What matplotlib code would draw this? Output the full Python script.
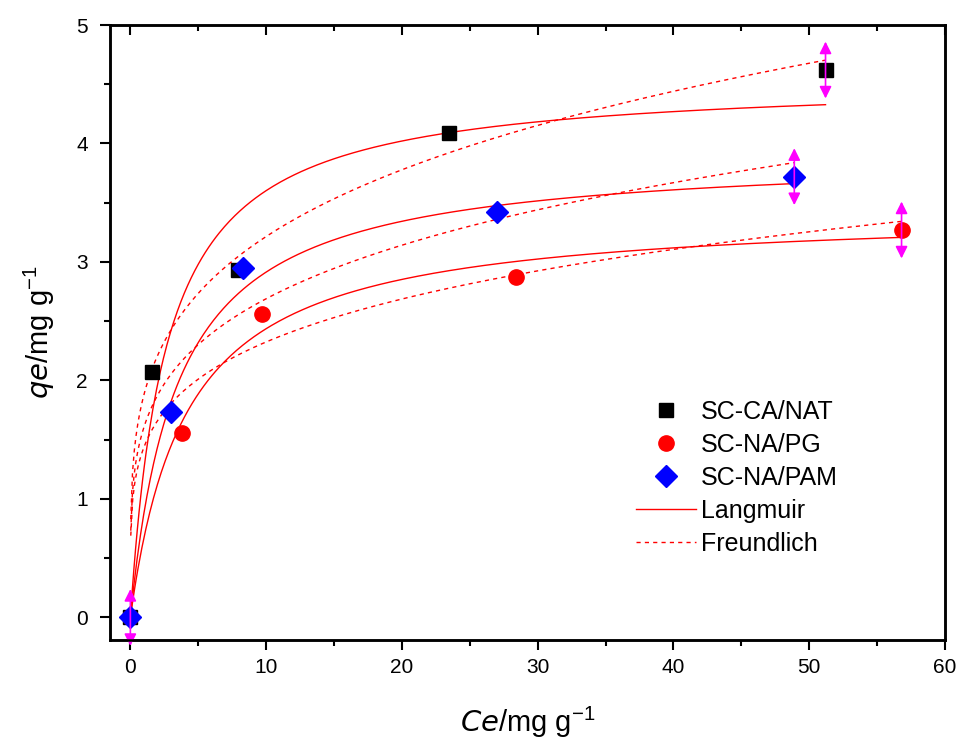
import numpy as np
import matplotlib
matplotlib.use("Agg")
import matplotlib.pyplot as plt
from matplotlib.ticker import MultipleLocator

plt.rcParams['font.family'] = ['Liberation Sans', 'DejaVu Sans']
plt.rcParams['xtick.labelsize'] = 15
plt.rcParams['ytick.labelsize'] = 15

# measured points (Ce, qe)
ce_nat = [0, 1.6, 7.9, 23.5, 51.2]
qe_nat = [0, 2.07, 2.93, 4.09, 4.62]
ce_pg = [0, 3.8, 9.7, 28.4, 56.8]
qe_pg = [0, 1.56, 2.56, 2.87, 3.27]
ce_pam = [0, 3.0, 8.3, 27.0, 48.9]
qe_pam = [0, 1.73, 2.95, 3.42, 3.72]

# fit parameters: Langmuir (qm, KL), Freundlich (KF, 1/n)
lang_nat = (4.55, 0.38)
lang_pg = (3.44, 0.243)
lang_pam = (3.92, 0.29)
freu_nat = (1.88, 0.233)
freu_pg = (1.437, 0.209)
freu_pam = (1.606, 0.224)

labels = ['SC-CA/NAT', 'SC-NA/PG', 'SC-NA/PAM']


def langmuir(c, qm, k):
    return qm * k * c / (1 + k * c)


def freundlich(c, kf, n_inv):
    return kf * c ** n_inv


fig = plt.figure(figsize=(9.6, 7.4), dpi=100)
ax = fig.add_axes([110 / 960, 1 - 640 / 740, 835 / 960, 615 / 740])
# twin axis only for the inward ticks on the top edge
top = ax.twiny()

sets = [(ce_nat, qe_nat, lang_nat, freu_nat),
        (ce_pg, qe_pg, lang_pg, freu_pg),
        (ce_pam, qe_pam, lang_pam, freu_pam)]

# fit curves
for i, (ce, qe, lp, fp) in enumerate(sets):
    c = np.linspace(0, max(ce), 400)
    ax.plot(c, langmuir(c, *lp), color='red', lw=1.0, zorder=2,
            label='Langmuir' if i == 0 else None)
    c2 = np.linspace(0.03, max(ce), 400)
    ax.plot(c2, freundlich(c2, *fp), color='red', lw=1.0, ls=(0, (3, 3)), zorder=2,
            label='Freundlich' if i == 0 else None)

# data points
ax.plot(ce_nat, qe_nat, 's', color='black', ms=10, ls='none', zorder=3, label=labels[0])
ax.plot(ce_pg, qe_pg, 'o', color='red', ms=11, ls='none', zorder=3, label=labels[1])
ax.plot(ce_pam, qe_pam, 'D', color='blue', ms=11, ls='none', zorder=3, label=labels[2])

# magenta cursor arrows at the end points
for x, y in [(0, 0), (ce_nat[-1], qe_nat[-1]), (ce_pam[-1], qe_pam[-1]), (ce_pg[-1], qe_pg[-1])]:
    ax.annotate('', xy=(x, y + 0.24), xytext=(x, y - 0.24),
                arrowprops=dict(arrowstyle='<|-|>', color='magenta', lw=1.2,
                                mutation_scale=18, shrinkA=0, shrinkB=0),
                annotation_clip=False, zorder=4)

ax.set_xlim(-1.5, 60)
ax.set_ylim(-0.19, 5)
ax.xaxis.set_major_locator(MultipleLocator(10))
ax.xaxis.set_minor_locator(MultipleLocator(5))
ax.yaxis.set_major_locator(MultipleLocator(1))
ax.yaxis.set_minor_locator(MultipleLocator(0.5))
ax.tick_params(which='both', direction='out', width=1.5, labelsize=15,
               top=False, right=False)
ax.tick_params(axis='y', which='major', pad=9)
ax.tick_params(axis='x', which='major', pad=6)
ax.tick_params(which='major', length=7)
ax.tick_params(which='minor', length=4)

top.set_xlim(ax.get_xlim())
top.xaxis.set_major_locator(MultipleLocator(10))
top.xaxis.set_minor_locator(MultipleLocator(5))
top.tick_params(which='both', direction='in', width=1.5, labeltop=False)
top.tick_params(which='major', length=7)
top.tick_params(which='minor', length=4)
for s in list(ax.spines.values()) + list(top.spines.values()):
    s.set_linewidth(1.8)

ax.set_xlabel(r'$\mathit{Ce}$/mg g$^{\mathregular{-1}}$', fontsize=21, labelpad=20)
ax.set_ylabel(r'$\mathit{qe}$/mg g$^{\mathregular{-1}}$', fontsize=21, labelpad=14)

handles, labs = ax.get_legend_handles_labels()
order = [labs.index(l) for l in labels + ['Langmuir', 'Freundlich']]
ax.legend([handles[i] for i in order], [labs[i] for i in order],
          loc='center left', bbox_to_anchor=(0.603, 0.264), frameon=False,
          fontsize=18, handlelength=2.4, handletextpad=0.2, labelspacing=0.36)

fig.savefig('out.png', dpi=100)
